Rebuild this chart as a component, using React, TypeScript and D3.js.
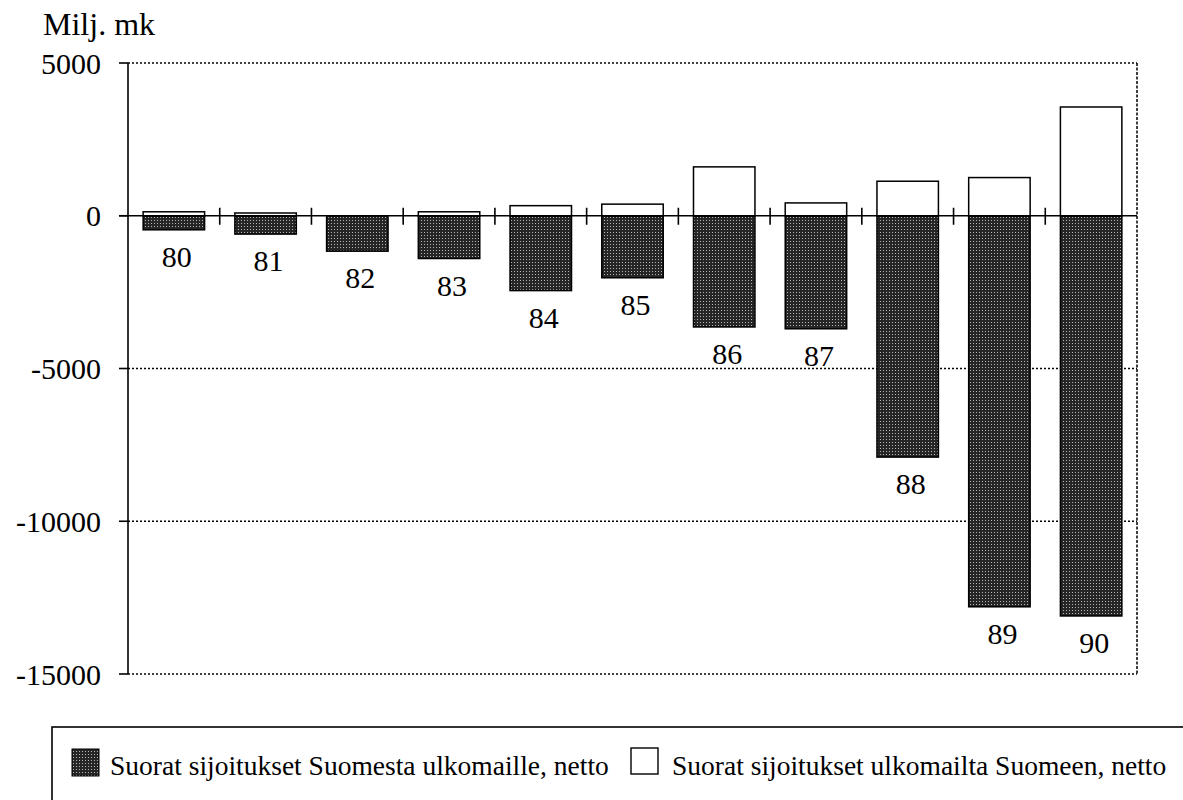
import React from 'react';
import * as d3 from 'd3';

const width = 1183;
const height = 800;
const margin = { top: 63, right: 46, bottom: 126, left: 128 };

// vuodet, Milj. mk
const years = ['80', '81', '82', '83', '84', '85', '86', '87', '88', '89', '90'];
const fromFinland = [-460, -600, -1160, -1400, -2450, -2030, -3640, -3700, -7900, -12800, -13100];
const intoFinland = [130, 90, 0, 130, 330, 380, 1600, 420, 1130, 1250, 3560];
const yTicks = [5000, 0, -5000, -10000, -15000];
const gridTicks = [5000, -5000, -10000, -15000];
const legendLabels = ['Suorat sijoitukset Suomesta ulkomaille, netto', 'Suorat sijoitukset ulkomailta Suomeen, netto'];

const font = '"Liberation Serif", "Times New Roman", serif';

const App = () => {
  const x = d3.scaleBand()
    .domain(years)
    .range([margin.left, width - margin.right])
    .paddingInner(0.33)
    .paddingOuter(0.165);
  const y = d3.scaleLinear()
    .domain([-15000, 5000])
    .range([height - margin.bottom, margin.top]);

  const step = x.step();
  const y0 = y(0);
  const right = width - margin.right;

  return (
    <svg width={width} height={height} style={{ position: 'absolute', left: 0, top: 0, background: '#fff' }} fontFamily={font}>
      <defs>
        <pattern id="dots" width="3" height="3" patternUnits="userSpaceOnUse">
          <rect width="3" height="3" fill="#262626" />
          <rect x="1" y="1" width="1" height="1" fill="#b5b5b5" />
        </pattern>
      </defs>

      {/* dotted grid + frame */}
      {gridTicks.map(t => (
        <line key={t} x1={margin.left} x2={right} y1={y(t)} y2={y(t)}
          stroke="#000" strokeWidth={1.3} strokeDasharray="2,2" />
      ))}
      <line x1={right} x2={right} y1={y(5000)} y2={y(-15000)} stroke="#000" strokeWidth={1.5} strokeDasharray="3,1.5" />

      {/* bars */}
      {years.map((d, i) => (
        <rect key={'o' + d} x={x(d)} y={y0} width={x.bandwidth()} height={y(fromFinland[i]) - y0}
          fill="url(#dots)" stroke="#000" strokeWidth={1.5} />
      ))}
      {years.map((d, i) => intoFinland[i] > 0 && (
        <rect key={'i' + d} x={x(d)} y={y(intoFinland[i])} width={x.bandwidth()} height={y0 - y(intoFinland[i])}
          fill="#fff" stroke="#000" strokeWidth={1.5} />
      ))}

      {/* axes */}
      <line x1={margin.left} x2={margin.left} y1={y(5000)} y2={y(-15000)} stroke="#000" strokeWidth={1.6} />
      <line x1={margin.left - 9} x2={right} y1={y0} y2={y0} stroke="#000" strokeWidth={1.6} />
      {yTicks.map(t => (
        <g key={t}>
          <line x1={margin.left - 9} x2={margin.left} y1={y(t)} y2={y(t)} stroke="#000" strokeWidth={1.6} />
          <text x={margin.left - 27} y={y(t)} dy="0.35em" textAnchor="end" fontSize={30}>{t}</text>
        </g>
      ))}
      {years.slice(1).map(d => (
        <line key={'t' + d} x1={x(d) - (step - x.bandwidth()) / 2} x2={x(d) - (step - x.bandwidth()) / 2}
          y1={y0 - 8} y2={y0 + 9} stroke="#000" strokeWidth={1.6} />
      ))}

      {/* year labels below bars */}
      {years.map((d, i) => (
        <text key={'l' + d} x={x(d) + x.bandwidth() / 2 + 3} y={y(fromFinland[i]) + 37}
          textAnchor="middle" fontSize={30}>{d}</text>
      ))}

      <text x={43} y={35} fontSize={32}>Milj. mk</text>

      {/* legend */}
      <rect x={52} y={727} width={1200} height={160} fill="none" stroke="#000" strokeWidth={1.6} />
      <rect x={72} y={749} width={27} height={27} fill="url(#dots)" stroke="#000" strokeWidth={1} />
      <text x={110} y={775} fontSize={27.5}>{legendLabels[0]}</text>
      <rect x={631} y={748} width={27} height={26} fill="#fff" stroke="#000" strokeWidth={1.4} />
      <text x={672} y={775} fontSize={27.5}>{legendLabels[1]}</text>
    </svg>
  );
};

export default App;
